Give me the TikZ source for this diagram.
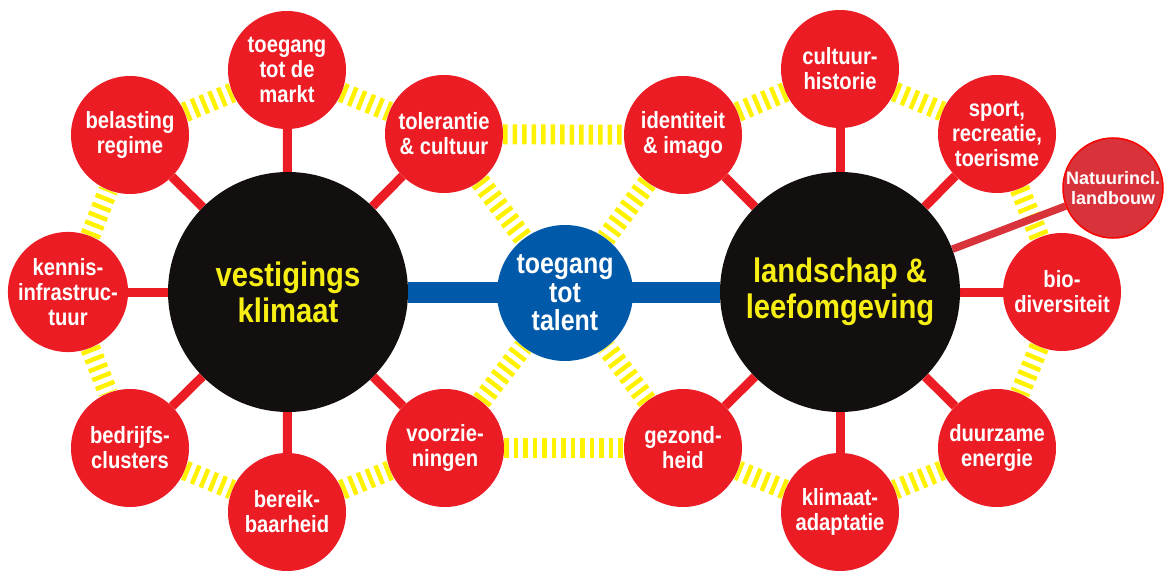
\documentclass[tikz,border=0pt]{standalone}
\usepackage{fontspec}
\setmainfont{Liberation Sans}
\newfontfamily\condfont{Liberation Sans}[FakeStretch=0.86]
\usetikzlibrary{backgrounds}
\definecolor{satred}{HTML}{EC1C24}
\definecolor{coreblack}{HTML}{130F0E}
\definecolor{coreyellow}{HTML}{F7EE13}
\definecolor{talentblue}{HTML}{0059A9}
\definecolor{ringyellow}{HTML}{FFF200}
\definecolor{natred}{HTML}{D8323A}
\begin{document}
\begin{tikzpicture}[x=1pt,y=-1pt,
  sat/.style={circle,fill=satred,text=white,minimum size=118pt,inner sep=0pt,align=center,
    font=\condfont\bfseries\fontsize{23.5}{25}\selectfont},
  core/.style={circle,fill=coreblack,text=coreyellow,minimum size=240pt,inner sep=0pt,align=center,
    font=\condfont\bfseries\fontsize{34}{36}\selectfont},
  hub/.style={circle,fill=talentblue,text=white,minimum size=136pt,inner sep=0pt,align=center,
    font=\condfont\bfseries\fontsize{29}{28.5}\selectfont},
  ring/.style={draw=ringyellow,line width=20pt,dash pattern=on 4.5pt off 5pt},
  spoke/.style={draw=satred,line width=9pt},
  talentbar/.style={draw=talentblue,line width=21pt},
  natlink/.style={draw=natred,line width=7.5pt}]
\useasboundingbox (0,0) rectangle (1164,572);
% kernen
\node[core] (vest) at (288,292) {vestigings\\klimaat};
\node[core] (land) at (840,292) {landschap \&\\leefomgeving};
\node[hub] (talent) at (565,293) {toegang\\tot\\talent};
% vestigingsklimaat
\node[sat] (markt) at (287,70) {toegang\\tot de\\markt};
\node[sat] (belasting) at (130,135) {belasting\\regime};
\node[sat] (tolerantie) at (444,134) {tolerantie\\\& cultuur};
\node[sat] (kennis) at (68,292) {kennis-\\infrastruc-\\tuur};
\node[sat] (bedrijfs) at (130,448) {bedrijfs-\\clusters};
\node[sat] (bereik) at (287,512) {bereik-\\baarheid};
\node[sat] (voorzie) at (445,448) {voorzie-\\ningen};
% landschap
\node[sat] (identiteit) at (683,135) {identiteit\\\& imago};
\node[sat] (cultuur) at (840,69) {cultuur-\\historie};
\node[sat] (sport) at (997,134) {sport,\\recreatie,\\toerisme};
\node[sat] (bio) at (1062,292) {bio-\\diversiteit};
\node[sat] (duurzaam) at (997,448) {duurzame\\energie};
\node[sat] (klimaat) at (840,512) {klimaat-\\adaptatie};
\node[sat] (gezond) at (683,448) {gezond-\\heid};
\node[circle,fill=natred,draw=red,line width=1.5pt,minimum size=100pt,inner sep=0pt,align=center,
  text=white,font=\bfseries\fontsize{18}{20}\selectfont] (natuur) at (1113,188) {Natuurincl.\\landbouw};
\begin{scope}[on background layer]
  \foreach \a/\b in {belasting/markt,markt/tolerantie,kennis/belasting,kennis/bedrijfs,
      bedrijfs/bereik,bereik/voorzie,voorzie/talent,tolerantie/talent,tolerantie/identiteit,
      voorzie/gezond,identiteit/talent,gezond/talent,identiteit/cultuur,cultuur/sport,
      sport/bio,bio/duurzaam,duurzaam/klimaat,klimaat/gezond}
    \draw[ring] (\a) -- (\b);
  \foreach \s in {markt,belasting,tolerantie,kennis,bedrijfs,bereik,voorzie}
    \draw[spoke] (vest) -- (\s);
  \foreach \s in {identiteit,cultuur,sport,bio,duurzaam,klimaat,gezond}
    \draw[spoke] (land) -- (\s);
  \draw[talentbar] (vest) -- (land);
  \draw[natlink] (land) -- (natuur);
\end{scope}
\end{tikzpicture}
\end{document}
